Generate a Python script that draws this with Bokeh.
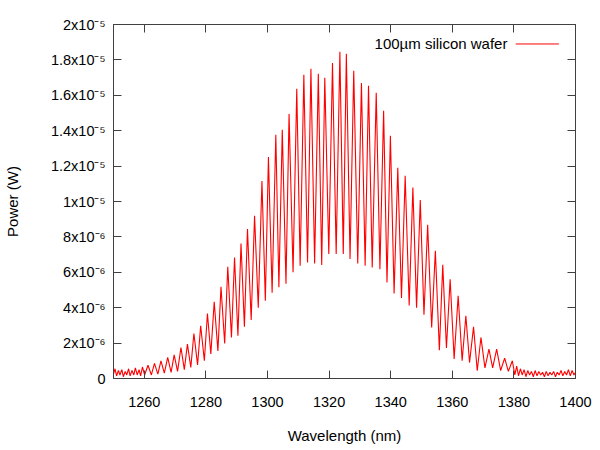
from bokeh.plotting import figure
from bokeh.models import LinearAxis, FixedTicker, Range1d, Label, Arrow
from bokeh.embed import file_html
from bokeh.resources import INLINE

# ---- data (power in units of 1e-6 W) ----
wavelength_nm = [
    1250.0, 1250.5, 1251.0, 1251.6, 1252.1, 1252.7, 1253.2, 1253.8, 1254.3, 1254.9,
    1255.4, 1256.0, 1256.6, 1257.1, 1257.7, 1258.3, 1258.8, 1259.4, 1260.1,
    1261.2, 1262.3, 1263.3, 1264.4, 1265.4, 1266.5, 1267.6, 1268.7, 1269.7, 1270.8,
    1271.9, 1273.0, 1274.0, 1275.1, 1276.1, 1277.3, 1278.3, 1279.5, 1280.5, 1281.6,
    1282.7, 1283.9, 1284.9, 1286.1, 1287.1, 1288.3, 1289.3, 1290.4, 1291.4, 1292.5,
    1293.5, 1294.7, 1295.8, 1297.0, 1298.2, 1299.3, 1300.3, 1301.5, 1302.7, 1303.7,
    1304.8, 1306.0, 1307.0, 1308.3, 1309.5, 1310.6, 1311.8, 1313.0, 1314.1, 1315.3,
    1316.5, 1317.6, 1318.6, 1319.9, 1321.1, 1322.3, 1323.5, 1324.6, 1325.6, 1326.8,
    1328.0, 1329.3, 1330.5, 1331.7, 1332.8, 1334.0, 1335.3, 1336.5, 1337.7, 1338.8,
    1339.9, 1341.1, 1342.3, 1343.5, 1344.7, 1346.0, 1347.2, 1348.4, 1349.6, 1350.8,
    1352.0, 1353.3, 1354.5, 1355.8, 1356.9, 1358.1, 1359.3, 1360.6, 1361.9, 1363.2,
    1364.4, 1365.6, 1366.9, 1368.1, 1369.3, 1370.6, 1371.9, 1373.1, 1374.4, 1375.7,
    1377.0, 1378.2, 1379.5,
    1380.3, 1380.9, 1381.5, 1382.1, 1382.7, 1383.3, 1383.9, 1384.5, 1385.1, 1385.7,
    1386.3, 1386.9, 1387.5, 1388.1, 1388.7, 1389.3, 1389.9, 1390.5, 1391.1, 1391.7,
    1392.3, 1392.9, 1393.5, 1394.1, 1394.7, 1395.3, 1395.9, 1396.5, 1397.1, 1397.7,
    1398.3, 1398.9, 1399.5, 1400.0,
]
power_uW = [
    0.25, 0.55, 0.15, 0.45, 0.20, 0.50, 0.10, 0.40, 0.20, 0.55,
    0.15, 0.45, 0.20, 0.60, 0.20, 0.50, 0.15, 0.65, 0.20,
    0.75, 0.20, 0.85, 0.25, 1.00, 0.30, 1.19, 0.35, 1.34, 0.40,
    1.75, 0.50, 1.94, 0.62, 2.54, 0.77, 2.98, 1.00, 3.67, 1.38,
    4.33, 1.56, 5.18, 1.98, 6.31, 2.32, 6.84, 2.41, 7.63, 2.92,
    8.44, 3.30, 9.19, 4.00, 11.16, 4.39, 12.52, 4.85, 13.77, 5.15,
    14.05, 5.35, 14.95, 6.00, 16.37, 6.37, 17.16, 6.55, 17.50, 6.50,
    17.21, 6.42, 16.99, 7.03, 17.83, 7.03, 18.46, 7.03, 18.34, 6.75,
    17.38, 6.50, 16.70, 6.37, 16.54, 6.27, 16.15, 6.18, 15.12, 5.42,
    13.71, 4.80, 11.90, 4.55, 11.45, 4.13, 10.79, 4.00, 10.08, 3.60,
    8.68, 2.88, 7.21, 1.60, 6.42, 1.72, 5.61, 1.10, 4.67, 1.00,
    3.54, 0.90, 2.92, 0.44, 2.32, 0.60, 1.66, 0.60, 1.66, 0.45,
    1.15, 0.40, 1.00,
    0.20, 0.70, 0.15, 0.55, 0.20, 0.50, 0.10, 0.45, 0.20, 0.40,
    0.10, 0.45, 0.15, 0.40, 0.20, 0.35, 0.10, 0.40, 0.15, 0.35,
    0.20, 0.40, 0.10, 0.35, 0.20, 0.45, 0.15, 0.40, 0.20, 0.50,
    0.15, 0.45, 0.20, 0.35,
]
x_ticks = [1260, 1280, 1300, 1320, 1340, 1360, 1380, 1400]
y_ticks = [0, 2, 4, 6, 8, 10, 12, 14, 16, 18, 20]
y_tick_labels = ["0", "2x10⁻⁶", "4x10⁻⁶", "6x10⁻⁶", "8x10⁻⁶", "1x10⁻⁵",
                 "1.2x10⁻⁵", "1.4x10⁻⁵", "1.6x10⁻⁵", "1.8x10⁻⁵", "2x10⁻⁵"]
series_name = "100µm silicon wafer"
x_title = "Wavelength (nm)"
y_title = "Power (W)"

FONT = "Liberation Sans"
FRAME = "#404040"

p = figure(width=592, height=446, x_range=Range1d(1250, 1400), y_range=Range1d(0, 20),
           output_backend="svg", toolbar_location=None,
           min_border_left=111, min_border_right=17, min_border_top=24, min_border_bottom=68)
p.background_fill_color = "white"
p.border_fill_color = "white"
p.outline_line_color = FRAME
p.xgrid.grid_line_color = None
p.ygrid.grid_line_color = None

p.line(wavelength_nm, power_uW, color="#ff0000", line_width=1.1)

def style_axis(ax):
    ax.major_tick_in = 8
    ax.major_tick_out = 0
    ax.minor_tick_line_color = None
    ax.axis_line_color = FRAME
    ax.major_tick_line_color = FRAME
    ax.major_label_text_font = FONT
    ax.major_label_text_font_size = "14.5px"
    ax.major_label_text_color = "black"
    ax.axis_label_text_font = FONT
    ax.axis_label_text_font_size = "15px"
    ax.axis_label_text_font_style = "normal"
    ax.axis_label_text_color = "black"

xa = p.xaxis[0]
xa.ticker = FixedTicker(ticks=x_ticks)
xa.axis_label = x_title
xa.major_label_standoff = 18
xa.axis_label_standoff = 17
style_axis(xa)

ya = p.yaxis[0]
ya.ticker = FixedTicker(ticks=y_ticks)
ya.major_label_overrides = {t: l for t, l in zip(y_ticks, y_tick_labels)}
ya.axis_label = y_title
ya.major_label_standoff = 8
ya.axis_label_standoff = 27
style_axis(ya)

# mirrored tick marks (no labels) on top and right
top = LinearAxis(ticker=FixedTicker(ticks=x_ticks))
style_axis(top)
top.major_label_overrides = {t: "" for t in x_ticks}
top.major_label_text_color = None
top.major_label_standoff = 0
p.add_layout(top, "above")

right = LinearAxis(ticker=FixedTicker(ticks=y_ticks))
style_axis(right)
right.major_label_overrides = {t: "" for t in y_ticks}
right.major_label_text_color = None
right.major_label_standoff = 0
p.add_layout(right, "right")

# key (gnuplot style: text then line sample)
p.add_layout(Label(x=1377.9, y=18.9, text=series_name, text_align="right",
                   text_baseline="middle", text_font=FONT, text_font_size="15px",
                   text_color="black"))
p.add_layout(Arrow(end=None, x_start=1380.6, y_start=18.9, x_end=1394.6, y_end=18.9,
                   line_color="#ff0000", line_width=1))

open("out.html", "w").write(file_html(p, INLINE))
